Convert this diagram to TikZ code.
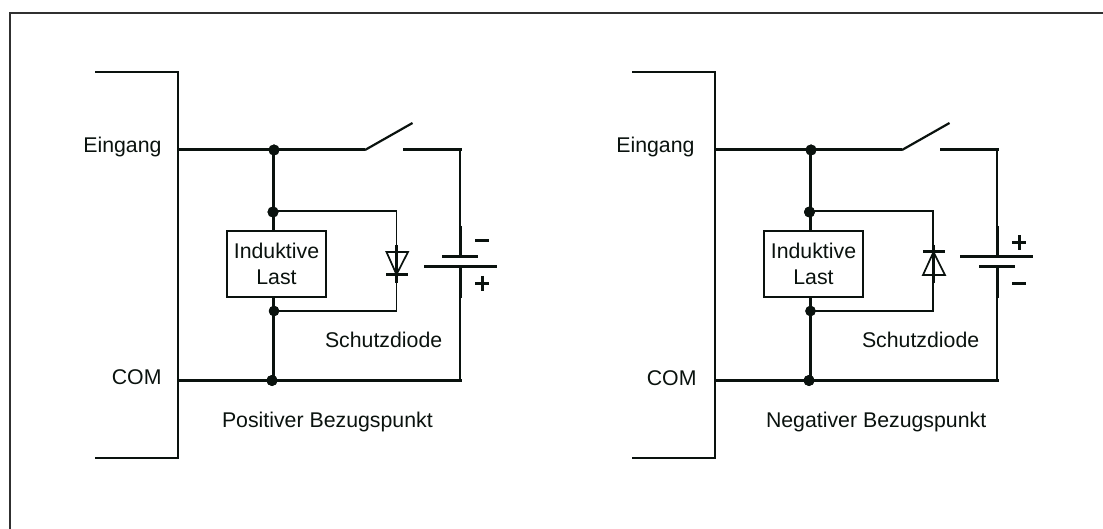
\documentclass[tikz,border=0pt]{standalone}
\usepackage{fontspec}
\setmainfont{Liberation Sans}
\definecolor{ink}{HTML}{0A120E}
\definecolor{framegray}{HTML}{303030}
\tikzset{
  x=1pt,y=-1pt,
  lbl/.style={inner sep=0pt,outer sep=0pt,text=ink,font=\fontsize{21.3}{25}\selectfont},
  heavy/.style={draw=ink,line width=3pt},
  medium/.style={draw=ink,line width=2.2pt},
  thinw/.style={draw=ink,line width=1.7pt,line join=miter},
  joint/.style={circle,fill=ink,inner sep=0pt,minimum size=11pt},
  loadbox/.style={draw=ink,line width=1.7pt,fill=white,inner sep=0pt,minimum width=99pt,minimum height=66pt,align=center,text=ink,font=\fontsize{21.3}{26}\selectfont},
}
\begin{document}
\begin{tikzpicture}
\useasboundingbox (0,0) rectangle (1103,529);
% outer frame
\coordinate (fa) at (10,529); \coordinate (fb) at (10,13); \coordinate (fc) at (1103,13);
\draw[framegray,line width=1.6pt] (fa) -- (fb) -- (fc);

% ---------- left circuit
\coordinate (Lt) at (95,72); \coordinate (Ltc) at (178,72);
\coordinate (Lb) at (95,458); \coordinate (Lbc) at (178,458);
\draw[medium,line join=miter] (Lt) -- (Ltc) -- (Lbc) -- (Lb);
\coordinate (Lin) at (178,150); \coordinate (Lcom) at (178,380.5);
\coordinate (Lm1) at (273,150); \coordinate (Lm2) at (273,380.5);
\draw[heavy] (Lm1) -- (Lm2);
\node[joint] (Lj1) at (274,150) {};
\node[joint] (Lj2) at (273,212) {};
\node[joint,minimum size=10.5pt] (Lj3) at (274,311) {};
\node[joint] (Lj4) at (272,380.5) {};
\coordinate (Lsw1) at (365,150); \coordinate (Lsw2) at (412.5,123);
\coordinate (Lsw3) at (403,150); \coordinate (Lc1) at (460,150);
\coordinate (Lc2) at (460,380.5);
\draw[heavy] (Lin) -- (Lsw1);
\draw[medium] (Lsw1) -- (Lsw2);
\draw[heavy] (Lsw3) -- (461.5,150);
\node[loadbox] (Lload) at (276.5,264) {Induktive\\[0.5pt]Last};
% diode branch
\coordinate (Ld1) at (396.5,211); \coordinate (Ld2) at (396.5,311);
\draw[thinw] (273,211) -- (Ld1) -- (Ld2) -- (273,311);
\coordinate (LdA) at (386.5,252); \coordinate (LdB) at (408,252); \coordinate (LdC) at (396.5,274.5);
\draw[thinw,fill=white] (LdA) -- (LdB) -- (LdC) -- cycle;
\draw[medium] (396.5,245) -- (396.5,283);
\draw[heavy] (386,274.5) -- (408,274.5);
% battery
\coordinate (Lbp) at (460,257); \coordinate (Lbn) at (460,267);
\draw[medium] (Lc1) -- (460,226);
\draw[heavy] (460,226) -- (Lbp);
\draw[heavy] (442,257) -- (478,257);
\draw[heavy] (424,267) -- (497,267);
\draw[heavy] (Lbn) -- (460,298);
\draw[medium] (460,298) -- (Lc2);
\draw[heavy] (475,241) -- (489,241);
\draw[heavy] (475,283.5) -- (489,283.5);
\draw[heavy] (482,276) -- (482,291);
\draw[heavy] (Lcom) -- (461.5,380.5);
\fill[ink] (Lj1) circle (5.5) (Lj2) circle (5.5) (Lj3) circle (5.2) (Lj4) circle (5.5);
% labels
\node[lbl,anchor=base east] (LtE) at (161.5,153) {Eingang};
\node[lbl,anchor=base east] (LtC) at (161.5,384) {COM};
\node[lbl,anchor=base west] (LtS) at (325,347) {Schutzdiode};
\node[lbl,anchor=base west] (LtP) at (222,427) {Positiver Bezugspunkt};

% ---------- right circuit
\coordinate (Rt) at (632,72); \coordinate (Rtc) at (715,72);
\coordinate (Rb) at (632,458); \coordinate (Rbc) at (715,458);
\draw[medium,line join=miter] (Rt) -- (Rtc) -- (Rbc) -- (Rb);
\coordinate (Rin) at (715,150); \coordinate (Rcom) at (715,380.5);
\coordinate (Rm1) at (810,150); \coordinate (Rm2) at (810,380.5);
\draw[heavy] (Rm1) -- (Rm2);
\node[joint] (Rj1) at (811,150) {};
\node[joint] (Rj2) at (809.5,212) {};
\node[joint,minimum size=10.5pt] (Rj3) at (810.5,311) {};
\node[joint] (Rj4) at (809,380.5) {};
\coordinate (Rsw1) at (902,150); \coordinate (Rsw2) at (949.5,123);
\coordinate (Rsw3) at (940,150); \coordinate (Rc1) at (997,150);
\coordinate (Rc2) at (997,380.5);
\draw[heavy] (Rin) -- (Rsw1);
\draw[medium] (Rsw1) -- (Rsw2);
\draw[heavy] (Rsw3) -- (998.5,150);
\node[loadbox] (Rload) at (813.5,264) {Induktive\\[0.5pt]Last};
% diode branch
\coordinate (Rd1) at (933,211); \coordinate (Rd2) at (933,311);
\draw[thinw] (810,211) -- (Rd1) -- (Rd2) -- (810,311);
\coordinate (RdA) at (923,275); \coordinate (RdB) at (945,275); \coordinate (RdC) at (933.5,252);
\draw[thinw,fill=white] (RdA) -- (RdB) -- (RdC) -- cycle;
\draw[medium] (933.5,245) -- (933.5,283);
\draw[heavy] (923,252) -- (945,252);
% battery
\coordinate (Rbp) at (997,257); \coordinate (Rbn) at (997,267);
\draw[medium] (Rc1) -- (997,226);
\draw[heavy] (997,226) -- (Rbp);
\draw[heavy] (960,257) -- (1033,257);
\draw[heavy] (979,267) -- (1015,267);
\draw[heavy] (Rbn) -- (997,298);
\draw[medium] (997,298) -- (Rc2);
\draw[heavy] (1012,243) -- (1026,243);
\draw[heavy] (1019,235.5) -- (1019,250);
\draw[heavy] (1012,284) -- (1026,284);
\draw[heavy] (Rcom) -- (998.5,380.5);
\fill[ink] (Rj1) circle (5.5) (Rj2) circle (5.5) (Rj3) circle (5.2) (Rj4) circle (5.5);
% labels
\node[lbl,anchor=base east] (RtE) at (694.5,153) {Eingang};
\node[lbl,anchor=base east] (RtC) at (696.5,385) {COM};
\node[lbl,anchor=base west] (RtS) at (862,347) {Schutzdiode};
\node[lbl,anchor=base west] (RtN) at (766,427) {Negativer Bezugspunkt};
\end{tikzpicture}
\end{document}
